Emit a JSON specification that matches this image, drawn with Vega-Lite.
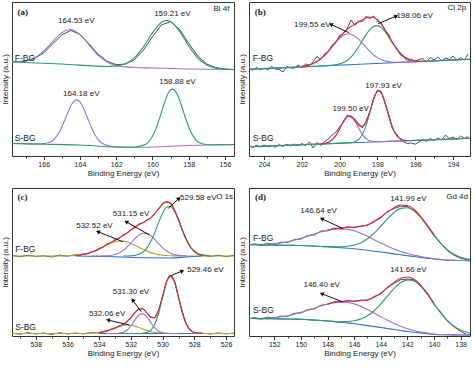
{
"$schema":"https://vega.github.io/schema/vega-lite/v6.json",
"background":"white",
"padding":{"left":0,"top":1,"right":2,"bottom":0},
"config":{
 "view":{"stroke":"#333","strokeWidth":1},
 "axis":{"grid":false,"domain":false,"labelFont":"Liberation Sans","titleFont":"Liberation Sans","labelFontSize":7,"titleFontSize":8,"titleFontWeight":"normal","labelColor":"#222","titleColor":"#222","tickColor":"#333","labelPadding":1,"titlePadding":2},
 "axisY":{"labels":false,"ticks":false,"titlePadding":3},
 "text":{"font":"Liberation Sans","fontSize":8,"color":"#222"}
},
"datasets":{
"a":[
{"s":"F","x":167.75,"p1":94.2,"p2":94,"raw":94.1},
{"s":"F","x":167,"p1":95.3,"raw":94.9},
{"s":"F","x":166.5,"p1":98.3,"raw":97.5},
{"s":"F","x":166,"p1":104.9,"raw":103.2},
{"s":"F","x":165.5,"p1":114.4,"raw":112.1},
{"s":"F","x":165,"p1":123.4,"p2":92,"raw":121.2},
{"s":"F","x":164.53,"p1":126.5},
{"s":"F","x":164.5,"raw":125.5},
{"s":"F","x":164,"p1":121.4,"raw":121.7},
{"s":"F","x":163.5,"p1":111.1,"raw":112.2},
{"s":"F","x":163,"p1":100.9,"raw":101.9},
{"s":"F","x":162.5,"p1":93.9,"p2":89.5,"raw":94.7},
{"s":"F","x":162,"p1":90.4,"p2":90.0,"raw":91.4},
{"s":"F","x":161.5,"p1":89.1,"p2":92.2,"raw":91.8},
{"s":"F","x":161,"p1":88.5,"p2":98.2,"raw":96.2},
{"s":"F","x":160.5,"p2":109.1,"raw":105.9},
{"s":"F","x":160,"p1":88,"p2":123.1,"raw":119.3},
{"s":"F","x":159.5,"p2":133.8,"raw":131.2},
{"s":"F","x":159.21,"p2":135.6},
{"s":"F","x":159,"p2":134.4,"raw":134.3},
{"s":"F","x":158.5,"p2":124.6,"raw":126.6},
{"s":"F","x":158,"p1":87,"p2":110.1,"raw":112.7},
{"s":"F","x":157.5,"p2":98.0,"raw":100.0},
{"s":"F","x":157,"p2":91.0,"raw":92.0},
{"s":"F","x":156.5,"p2":87.9,"raw":88.3},
{"s":"F","x":156,"p2":86.9,"raw":87.0},
{"s":"F","x":155.5,"p1":86.5,"p2":86.5,"raw":86.5},
{"s":"S","x":167.75,"p1":12.5,"p2":12.5},
{"s":"S","x":167,"p1":12.2},
{"s":"S","x":166.18,"p1":12.1},
{"s":"S","x":166,"p2":11.8},
{"s":"S","x":165.68,"p1":13.7},
{"s":"S","x":165.43,"p1":16.7},
{"s":"S","x":165.18,"p1":22.7},
{"s":"S","x":164.93,"p1":32.0},
{"s":"S","x":164.68,"p1":43.1},
{"s":"S","x":164.43,"p1":52.5},
{"s":"S","x":164.18,"p1":56.1},
{"s":"S","x":164,"p2":11},
{"s":"S","x":163.93,"p1":52.2},
{"s":"S","x":163.68,"p1":42.5},
{"s":"S","x":163.43,"p1":31.0},
{"s":"S","x":163.18,"p1":21.4},
{"s":"S","x":162.93,"p1":15.0},
{"s":"S","x":162.68,"p1":11.7},
{"s":"S","x":162.18,"p1":9.4},
{"s":"S","x":162,"p2":9},
{"s":"S","x":161,"p1":8.8,"p2":8.8},
{"s":"S","x":160.9,"p2":9.1},
{"s":"S","x":160.4,"p2":11.4},
{"s":"S","x":160.15,"p2":15.5},
{"s":"S","x":160,"p1":9},
{"s":"S","x":159.9,"p2":23.3},
{"s":"S","x":159.65,"p2":35.4},
{"s":"S","x":159.4,"p2":49.8},
{"s":"S","x":159.15,"p2":62.0},
{"s":"S","x":159,"p1":9.8},
{"s":"S","x":158.9,"p2":66.9},
{"s":"S","x":158.65,"p2":62.3},
{"s":"S","x":158.4,"p2":50.5},
{"s":"S","x":158.15,"p2":36.5},
{"s":"S","x":158,"p1":10.5},
{"s":"S","x":157.9,"p2":24.8},
{"s":"S","x":157.65,"p2":17.2},
{"s":"S","x":157.4,"p2":13.3},
{"s":"S","x":157,"p1":11},
{"s":"S","x":156.9,"p2":11.3},
{"s":"S","x":156,"p1":11.3,"p2":11.3},
{"s":"S","x":155.5,"p1":11.5,"p2":11.5}
],
"b":[
{"s":"F","x":204.8,"p1":86.7,"p2":86.7,"bg":86.7},
{"s":"F","x":204,"p1":87.4},
{"s":"F","x":203,"p1":88.2,"p2":88.2},
{"s":"F","x":202.5,"p1":88.7},
{"s":"F","x":202,"p1":89.6,"fit":89.6},
{"s":"F","x":201.75,"p1":90.4,"fit":90.4},
{"s":"F","x":201.5,"p1":91.8,"p2":89.5,"fit":91.8},
{"s":"F","x":201.25,"p1":93.9,"fit":93.9},
{"s":"F","x":201,"p1":97.2,"p2":90.0,"fit":97.2},
{"s":"F","x":200.75,"p1":101.6,"fit":101.7},
{"s":"F","x":200.5,"p1":107.0,"p2":90.6,"fit":107.2},
{"s":"F","x":200.25,"p1":112.7,"p2":91.1,"fit":113.2},
{"s":"F","x":200,"p1":117.7,"p2":92.1,"fit":119.0},
{"s":"F","x":199.75,"p1":121.2,"p2":94.0,"fit":124.2},
{"s":"F","x":199.5,"p1":122.2,"p2":97.2,"fit":128.2},
{"s":"F","x":199.25,"p1":120.6,"p2":102.2,"fit":131.4},
{"s":"F","x":199,"p1":116.8,"p2":109.0,"fit":134.1},
{"s":"F","x":198.75,"p1":111.8,"p2":116.8,"fit":136.7},
{"s":"F","x":198.5,"p1":106.6,"p2":124.1,"fit":138.6},
{"s":"F","x":198.25,"p1":101.9,"p2":129.1,"fit":138.7},
{"s":"F","x":198,"p1":98.4,"p2":130.4,"fit":136.3},
{"s":"F","x":197.75,"p1":96.0,"p2":127.6,"fit":130.9},
{"s":"F","x":197.5,"p1":94.6,"p2":121.7,"fit":123.4},
{"s":"F","x":197.25,"p1":94.0,"p2":114.4,"fit":115.2},
{"s":"F","x":197,"p1":93.7,"p2":107.4,"fit":107.7},
{"s":"F","x":196.75,"p2":101.9,"fit":102.0},
{"s":"F","x":196.5,"p1":93.8,"p2":98.2,"fit":98.2},
{"s":"F","x":196.25,"p2":96.1,"fit":96.1},
{"s":"F","x":196,"p1":94.2,"p2":95.1,"fit":95.1},
{"s":"F","x":195.75,"p2":94.8,"fit":94.8},
{"s":"F","x":195.5,"p2":94.8,"fit":94.8},
{"s":"F","x":195,"p1":95.1,"p2":95.1},
{"s":"F","x":193.1,"p1":96.7,"p2":96.7,"bg":96.7},
{"s":"F","x":204.8,"raw":88.0},{"s":"F","x":204.6,"raw":85.9},{"s":"F","x":204.4,"raw":88.5},{"s":"F","x":204.2,"raw":86.2},{"s":"F","x":204.0,"raw":88.0},{"s":"F","x":203.8,"raw":86.3},{"s":"F","x":203.6,"raw":89.5},{"s":"F","x":203.4,"raw":87.0},{"s":"F","x":203.2,"raw":86.5},{"s":"F","x":203.0,"raw":84.0},{"s":"F","x":202.8,"raw":89.5},{"s":"F","x":202.6,"raw":88.0},{"s":"F","x":202.4,"raw":87.8},{"s":"F","x":202.2,"raw":91.0},{"s":"F","x":202.0,"raw":88.5},{"s":"F","x":201.8,"raw":92.0},{"s":"F","x":201.6,"raw":90.5},{"s":"F","x":201.4,"raw":94.5},{"s":"F","x":201.2,"raw":99.5},{"s":"F","x":201.0,"raw":96.5},{"s":"F","x":200.8,"raw":102.0},{"s":"F","x":200.6,"raw":104.0},{"s":"F","x":200.4,"raw":111.0},{"s":"F","x":200.2,"raw":113.5},{"s":"F","x":200.0,"raw":120.5},{"s":"F","x":199.8,"raw":122.5},{"s":"F","x":199.6,"raw":127.5},{"s":"F","x":199.4,"raw":136.0},{"s":"F","x":199.2,"raw":130.5},{"s":"F","x":199.0,"raw":135.0},{"s":"F","x":198.8,"raw":134.5},{"s":"F","x":198.6,"raw":139.5},{"s":"F","x":198.4,"raw":137.5},{"s":"F","x":198.2,"raw":140.0},{"s":"F","x":198.0,"raw":135.0},{"s":"F","x":197.8,"raw":133.0},{"s":"F","x":197.6,"raw":125.5},{"s":"F","x":197.4,"raw":121.5},{"s":"F","x":197.2,"raw":112.5},{"s":"F","x":197.0,"raw":108.5},{"s":"F","x":196.8,"raw":101.5},{"s":"F","x":196.6,"raw":99.0},{"s":"F","x":196.4,"raw":94.5},{"s":"F","x":196.2,"raw":97.0},{"s":"F","x":196.0,"raw":94.0},{"s":"F","x":195.8,"raw":96.5},{"s":"F","x":195.6,"raw":97.5},{"s":"F","x":195.4,"raw":94.0},{"s":"F","x":195.2,"raw":98.5},{"s":"F","x":195.0,"raw":96.0},{"s":"F","x":194.8,"raw":99.0},{"s":"F","x":194.6,"raw":95.0},{"s":"F","x":194.4,"raw":98.0},{"s":"F","x":194.2,"raw":96.5},{"s":"F","x":194.0,"raw":100.0},{"s":"F","x":193.8,"raw":95.5},{"s":"F","x":193.6,"raw":98.5},{"s":"F","x":193.4,"raw":96.0},{"s":"F","x":193.2,"raw":102.0},
{"s":"S","x":204.8,"p1":9.3,"p2":9.3,"bg":9.3},
{"s":"S","x":202,"p1":11.3},
{"s":"S","x":201,"p1":12.1,"p2":12.0,"fit":12.1},
{"s":"S","x":200.85,"p1":12.4,"fit":12.4},
{"s":"S","x":200.7,"p1":13.0,"fit":13.0},
{"s":"S","x":200.55,"p1":14.1,"fit":14.1},
{"s":"S","x":200.4,"p1":16.1,"fit":16.1},
{"s":"S","x":200.25,"p1":19.3,"fit":19.3},
{"s":"S","x":200.1,"p1":23.8,"fit":23.8},
{"s":"S","x":199.95,"p1":29.2,"fit":29.2},
{"s":"S","x":199.8,"p1":34.5,"fit":34.5},
{"s":"S","x":199.65,"p1":38.5,"fit":38.5},
{"s":"S","x":199.5,"p1":40.1,"fit":40.2},
{"s":"S","x":199.43,"p2":13.4},
{"s":"S","x":199.35,"p1":38.8,"fit":39.2},
{"s":"S","x":199.28,"p2":13.8},
{"s":"S","x":199.2,"p1":34.9,"fit":35.9},
{"s":"S","x":199.13,"p2":14.8},
{"s":"S","x":199.05,"p1":29.8,"fit":32.1},
{"s":"S","x":198.98,"p2":16.8},
{"s":"S","x":198.9,"p1":24.6,"fit":29.6},
{"s":"S","x":198.83,"p2":20.5},
{"s":"S","x":198.75,"p1":20.4,"fit":30.1},
{"s":"S","x":198.68,"p2":26.4,"fit":31.5},
{"s":"S","x":198.6,"p1":17.4},
{"s":"S","x":198.53,"p2":34.8,"fit":37.4},
{"s":"S","x":198.45,"p1":15.6},
{"s":"S","x":198.38,"p2":44.9,"fit":46.1},
{"s":"S","x":198.3,"p1":14.8},
{"s":"S","x":198.23,"p2":54.9,"fit":55.4},
{"s":"S","x":198.15,"p1":14.4},
{"s":"S","x":198.08,"p2":62.4,"fit":62.6},
{"s":"S","x":198,"p1":14.3},
{"s":"S","x":197.93,"p2":65.3,"fit":65.4},
{"s":"S","x":197.78,"p2":62.6,"fit":62.6},
{"s":"S","x":197.63,"p2":55.3,"fit":55.3},
{"s":"S","x":197.48,"p2":45.5,"fit":45.5},
{"s":"S","x":197.33,"p2":35.7,"fit":35.7},
{"s":"S","x":197.18,"p2":27.5,"fit":27.5},
{"s":"S","x":197.03,"p2":21.8,"fit":21.8},
{"s":"S","x":196.88,"p2":18.4,"fit":18.4},
{"s":"S","x":196.73,"p2":16.6,"fit":16.6},
{"s":"S","x":196.58,"p2":15.8,"fit":15.8},
{"s":"S","x":196.43,"p2":15.5,"fit":15.5},
{"s":"S","x":196,"p1":15.6},
{"s":"S","x":193.1,"p1":17.7,"p2":17.7,"bg":17.7},
{"s":"S","x":204.8,"raw":10.5},{"s":"S","x":204.6,"raw":8.5},{"s":"S","x":204.4,"raw":10.8},{"s":"S","x":204.2,"raw":9.0},{"s":"S","x":204.0,"raw":11.0},{"s":"S","x":203.8,"raw":9.2},{"s":"S","x":203.6,"raw":10.5},{"s":"S","x":203.4,"raw":8.8},{"s":"S","x":203.2,"raw":11.5},{"s":"S","x":203.0,"raw":9.5},{"s":"S","x":202.8,"raw":11.8},{"s":"S","x":202.6,"raw":10.0},{"s":"S","x":202.4,"raw":12.0},{"s":"S","x":202.2,"raw":10.2},{"s":"S","x":202.0,"raw":12.5},{"s":"S","x":201.8,"raw":10.5},{"s":"S","x":201.6,"raw":14.0},{"s":"S","x":201.4,"raw":8.0},{"s":"S","x":201.2,"raw":13.5},{"s":"S","x":201.0,"raw":10.5},{"s":"S","x":200.8,"raw":14.5},{"s":"S","x":200.6,"raw":17.0},{"s":"S","x":200.4,"raw":21.0},{"s":"S","x":200.2,"raw":24.0},{"s":"S","x":200.0,"raw":29.0},{"s":"S","x":199.8,"raw":33.5},{"s":"S","x":199.6,"raw":41.0},{"s":"S","x":199.4,"raw":38.5},{"s":"S","x":199.2,"raw":37.0},{"s":"S","x":199.0,"raw":32.5},{"s":"S","x":198.8,"raw":28.0},{"s":"S","x":198.6,"raw":35.0},{"s":"S","x":198.4,"raw":44.0},{"s":"S","x":198.2,"raw":57.5},{"s":"S","x":198.0,"raw":66.0},{"s":"S","x":197.8,"raw":64.5},{"s":"S","x":197.6,"raw":52.5},{"s":"S","x":197.4,"raw":41.5},{"s":"S","x":197.2,"raw":27.5},{"s":"S","x":197.0,"raw":22.0},{"s":"S","x":196.8,"raw":17.0},{"s":"S","x":196.6,"raw":14.0},{"s":"S","x":196.4,"raw":12.5},{"s":"S","x":196.2,"raw":13.0},{"s":"S","x":196.0,"raw":11.8},{"s":"S","x":195.8,"raw":14.0},{"s":"S","x":195.6,"raw":16.5},{"s":"S","x":195.4,"raw":14.5},{"s":"S","x":195.2,"raw":17.5},{"s":"S","x":195.0,"raw":15.5},{"s":"S","x":194.8,"raw":18.0},{"s":"S","x":194.6,"raw":16.0},{"s":"S","x":194.4,"raw":21.0},{"s":"S","x":194.2,"raw":17.5},{"s":"S","x":194.0,"raw":19.0},{"s":"S","x":193.8,"raw":16.5},{"s":"S","x":193.6,"raw":20.0},{"s":"S","x":193.4,"raw":17.5},{"s":"S","x":193.2,"raw":19.5}
],
"c":[
{"s":"F","x":539.5,"p3":80,"raw":80.5},
{"s":"F","x":539,"raw":79.3},
{"s":"F","x":538.5,"raw":80.8},
{"s":"F","x":538,"p3":80,"raw":79.5},
{"s":"F","x":537.5,"raw":80.2},
{"s":"F","x":537,"raw":79.0},
{"s":"F","x":536.5,"p3":80.0,"raw":80.9},
{"s":"F","x":536,"p3":80.15,"raw":79.8},
{"s":"F","x":535.5,"p3":80.52,"fit":80.52,"raw":81.2,"bg":80},
{"s":"F","x":535.25,"p3":80.92,"fit":80.92,"raw":80.5},
{"s":"F","x":535,"p3":81.53,"fit":81.53,"raw":82.3},
{"s":"F","x":534.75,"p3":82.43,"fit":82.43,"raw":82.0},
{"s":"F","x":534.5,"p3":83.65,"p1":80,"fit":83.65,"raw":84.4},
{"s":"F","x":534.25,"p3":85.21,"p1":80,"fit":85.21,"raw":85.0},
{"s":"F","x":534,"p3":87.06,"p1":80.04,"fit":87.1,"raw":87.8},
{"s":"F","x":533.75,"p3":89.1,"p1":80.12,"fit":89.22,"raw":89.0},
{"s":"F","x":533.5,"p3":91.13,"p1":80.31,"fit":91.44,"raw":92.2},
{"s":"F","x":533.25,"p3":92.93,"p1":80.73,"fit":93.66,"raw":93.3},
{"s":"F","x":533,"p3":94.26,"p1":81.59,"fit":95.85,"raw":96.5,"bg":79.3},
{"s":"F","x":532.75,"p3":94.94,"p1":83.11,"fit":98.05,"raw":97.6},
{"s":"F","x":532.5,"p3":94.86,"p1":85.54,"p2":80,"fit":100.4,"raw":101.2},
{"s":"F","x":532.25,"p3":94.04,"p1":88.94,"p2":80.05,"fit":102.98,"raw":102.6},
{"s":"F","x":532,"p3":92.6,"p1":93.08,"p2":80.22,"fit":105.9,"raw":106.6},
{"s":"F","x":531.75,"p3":90.73,"p1":97.36,"p2":80.65,"fit":108.74,"raw":108.3},
{"s":"F","x":531.5,"p3":88.69,"p1":100.9,"p2":81.69,"fit":111.28,"raw":112.0},
{"s":"F","x":531.25,"p3":86.67,"p1":102.82,"p2":83.89,"fit":113.38,"raw":113.0},
{"s":"F","x":531,"p3":84.87,"p1":102.6,"p2":87.95,"fit":115.42,"raw":116.1,"bg":78.2},
{"s":"F","x":530.75,"p3":83.38,"p1":100.3,"p2":94.46,"fit":118.14,"raw":117.7},
{"s":"F","x":530.5,"p3":82.22,"p1":96.53,"p2":103.38,"fit":122.13,"raw":122.8},
{"s":"F","x":530.25,"p3":81.39,"p1":92.22,"p2":113.63,"fit":127.24,"raw":126.8},
{"s":"F","x":530,"p3":80.82,"p1":88.19,"p2":123.03,"fit":132.04,"raw":132.7},
{"s":"F","x":529.75,"p3":80.46,"p1":84.97,"p2":128.96,"fit":134.39,"raw":133.9},
{"s":"F","x":529.5,"p3":80.25,"p1":82.74,"p2":129.53,"fit":132.52,"raw":133.1,"bg":78},
{"s":"F","x":529.25,"p3":80.13,"p1":81.37,"p2":124.57,"fit":126.07,"raw":125.6},
{"s":"F","x":529,"p3":80.06,"p1":80.62,"p2":115.67,"fit":116.35,"raw":117.0},
{"s":"F","x":528.75,"p3":80,"p1":80.26,"p2":105.39,"fit":105.65,"raw":105.2},
{"s":"F","x":528.5,"p3":80,"p1":80.1,"p2":96.07,"fit":96.17,"raw":96.8,"bg":79},
{"s":"F","x":528.25,"p2":89.05,"fit":89.05,"raw":88.6},
{"s":"F","x":528,"p3":80,"p2":84.53,"fit":84.53,"raw":85.1},
{"s":"F","x":527.75,"p2":82.02,"fit":82.02,"raw":81.6},
{"s":"F","x":527.5,"p2":80.8,"fit":80.8,"raw":81.3,"bg":80},
{"s":"F","x":527.25,"p2":80.28,"raw":80.4},
{"s":"F","x":527,"p3":80,"p2":80.09,"raw":79.6},
{"s":"F","x":526.5,"raw":80.8},
{"s":"F","x":526,"raw":79.4},
{"s":"F","x":525.5,"p3":80,"raw":80.6},
{"s":"S","x":539.5,"p3":2.5,"raw":2.8},
{"s":"S","x":539,"raw":1.9},
{"s":"S","x":538.5,"raw":3.3},
{"s":"S","x":538,"raw":2.0},
{"s":"S","x":537.5,"raw":3.0},
{"s":"S","x":537,"raw":1.6},
{"s":"S","x":536.5,"raw":3.2},
{"s":"S","x":536,"raw":2.1},
{"s":"S","x":535.5,"p3":2.5,"raw":3.0},
{"s":"S","x":535,"p3":2.54,"raw":2.2},
{"s":"S","x":534.75,"p3":2.59},
{"s":"S","x":534.5,"p3":2.72,"raw":3.3},
{"s":"S","x":534.25,"p3":2.96},
{"s":"S","x":534,"p3":3.4,"fit":3.4,"raw":3.1,"bg":2.5},
{"s":"S","x":533.75,"p3":4.11,"fit":4.11,"raw":4.6},
{"s":"S","x":533.5,"p3":5.14,"p1":2.5,"fit":5.14,"raw":4.8},
{"s":"S","x":533.25,"p3":6.46,"p1":2.5,"fit":6.46,"raw":6.9},
{"s":"S","x":533,"p3":7.96,"p1":2.56,"fit":8.02,"raw":7.7},
{"s":"S","x":532.75,"p3":9.39,"p1":2.8,"fit":9.69,"raw":10.1},
{"s":"S","x":532.5,"p3":10.49,"p1":3.62,"p2":2.5,"fit":11.61,"raw":11.2},
{"s":"S","x":532.25,"p3":10.98,"p1":5.79,"p2":2.5,"fit":14.27,"raw":14.8},
{"s":"S","x":532,"p3":10.77,"p1":10.01,"p2":2.5,"fit":18.28,"raw":17.9},
{"s":"S","x":531.75,"p3":9.89,"p1":15.84,"p2":2.5,"fit":23.23,"raw":23.8},
{"s":"S","x":531.5,"p3":8.56,"p1":20.96,"p2":2.5,"fit":27.02,"raw":26.6},
{"s":"S","x":531.25,"p3":7.05,"p1":22.4,"p2":2.7,"fit":27.15,"raw":27.6},
{"s":"S","x":531,"p3":5.64,"p1":19.21,"p2":3.4,"fit":23.25,"raw":22.9},
{"s":"S","x":530.75,"p3":4.48,"p1":13.42,"p2":5.72,"fit":18.62,"raw":19.1},
{"s":"S","x":530.5,"p3":3.65,"p1":8.06,"p2":11.63,"fit":18.34,"raw":18.0},
{"s":"S","x":530.25,"p3":3.11,"p1":4.71,"p2":23.0,"fit":25.82,"raw":26.3},
{"s":"S","x":530,"p3":2.8,"p1":3.18,"p2":39.03,"fit":40.01,"raw":39.6},
{"s":"S","x":529.75,"p3":2.63,"p1":2.66,"p2":54.17,"fit":54.46,"raw":54.9},
{"s":"S","x":529.5,"p3":2.55,"p1":2.53,"p2":60.5,"fit":60.58,"raw":60.2},
{"s":"S","x":529.25,"p3":2.52,"p1":2.5,"p2":54.17,"fit":54.19,"raw":54.6},
{"s":"S","x":529,"p3":2.5,"p1":2.5,"p2":39.03,"fit":39.03,"raw":38.7},
{"s":"S","x":528.75,"p2":23.0,"fit":23.0,"raw":23.4},
{"s":"S","x":528.5,"p2":11.63,"fit":11.63,"raw":11.3},
{"s":"S","x":528.25,"p2":5.72,"fit":5.72,"raw":6.1},
{"s":"S","x":528,"p2":3.4,"fit":3.4,"raw":3.1,"bg":2.5},
{"s":"S","x":527.75,"p2":2.7,"fit":2.7},
{"s":"S","x":527.5,"p2":2.5,"fit":2.5,"raw":2.9},
{"s":"S","x":527,"raw":2.0},
{"s":"S","x":526.5,"raw":3.1},
{"s":"S","x":526,"raw":2.2},
{"s":"S","x":525.5,"p3":2.5,"raw":2.9}
],
"d":[
{"s":"F","x":153.9,"bg":91.3,"p1":91.46,"p2":91.3,"raw":91.0},
{"s":"F","x":153.5,"bg":91.2,"p1":91.47,"p2":91.2,"raw":92.2},
{"s":"F","x":153,"bg":91.1,"p1":91.6,"p2":91.1,"raw":90.8},
{"s":"F","x":152.5,"bg":91.0,"p1":91.88,"p2":91.0,"raw":92.6},
{"s":"F","x":152,"bg":90.9,"p1":92.37,"p2":90.9,"raw":91.4},
{"s":"F","x":151.5,"bg":90.8,"p1":93.15,"p2":90.8,"raw":93.8},
{"s":"F","x":151,"bg":90.7,"p1":94.29,"p2":90.7,"raw":93.5},
{"s":"F","x":150.5,"bg":90.6,"p1":95.81,"p2":90.6,"raw":96.5},
{"s":"F","x":150,"bg":90.5,"p1":97.72,"p2":90.5,"raw":97.0},
{"s":"F","x":149.5,"bg":90.2,"p1":99.74,"p2":90.2,"raw":100.6},
{"s":"F","x":149,"bg":89.85,"p1":101.87,"p2":89.85,"raw":101.0},
{"s":"F","x":148.5,"bg":89.5,"p1":103.96,"p2":89.5,"raw":104.9},
{"s":"F","x":148,"bg":89.2,"p1":105.78,"p2":89.35,"fit":105.93,"raw":105.2},
{"s":"F","x":147.5,"bg":88.7,"p1":106.84,"p2":89.08,"fit":107.22,"raw":108.0},
{"s":"F","x":147,"bg":88.2,"p1":107.13,"p2":89.08,"fit":108.01,"raw":107.3},
{"s":"F","x":146.5,"bg":87.8,"p1":106.64,"p2":89.69,"fit":108.53,"raw":109.3},
{"s":"F","x":146,"bg":87.3,"p1":105.18,"p2":91.06,"fit":108.94,"raw":108.2},
{"s":"F","x":145.5,"bg":86.5,"p1":102.7,"p2":93.37,"fit":109.57,"raw":110.1},
{"s":"F","x":145,"bg":85.7,"p1":99.69,"p2":97.29,"fit":111.28,"raw":110.6},
{"s":"F","x":144.5,"bg":84.8,"p1":96.32,"p2":102.81,"fit":114.33,"raw":115.0},
{"s":"F","x":144,"bg":84.0,"p1":93.06,"p2":109.8,"fit":118.86,"raw":118.1},
{"s":"F","x":143.5,"bg":83.1,"p1":89.89,"p2":117.15,"fit":123.94,"raw":124.6},
{"s":"F","x":143,"bg":82.1,"p1":86.95,"p2":123.52,"fit":128.37,"raw":127.5},
{"s":"F","x":142.5,"bg":81.2,"p1":84.51,"p2":127.64,"fit":130.95,"raw":129.8},
{"s":"F","x":142,"bg":80.3,"p1":82.45,"p2":128.28,"fit":130.43,"raw":129.4},
{"s":"F","x":141.5,"bg":79.5,"p1":80.84,"p2":125.19,"fit":126.53,"raw":125.2},
{"s":"F","x":141,"bg":78.6,"p1":79.39,"p2":118.69,"fit":119.48,"raw":118.6},
{"s":"F","x":140.5,"bg":77.8,"p1":78.25,"p2":110.23,"fit":110.68,"raw":109.5},
{"s":"F","x":140,"bg":77.0,"p1":77.24,"p2":101.17,"fit":101.41,"raw":100.2},
{"s":"F","x":139.5,"bg":76.4,"p1":76.52,"p2":93.0,"raw":92.4},
{"s":"F","x":139,"bg":75.8,"p1":75.86,"p2":86.31,"raw":85.2},
{"s":"F","x":138.5,"bg":75.6,"p1":75.6,"p2":81.73,"raw":80.8},
{"s":"F","x":138,"bg":75.5,"p1":75.5,"p2":78.8,"raw":77.6},
{"s":"F","x":137.5,"bg":75.4,"p1":75.4,"p2":77.03,"raw":76.4},
{"s":"F","x":137.3,"bg":75.3,"p1":75.3,"p2":76.5,"raw":77.0},
{"s":"S","x":153.9,"bg":17.5,"p1":17.63,"p2":17.5,"raw":17.2},
{"s":"S","x":153.5,"bg":17.45,"p1":17.68,"p2":17.45,"raw":18.4},
{"s":"S","x":153,"bg":17.35,"p1":17.78,"p2":17.35,"raw":17.0},
{"s":"S","x":152.5,"bg":17.3,"p1":18.06,"p2":17.3,"raw":18.8},
{"s":"S","x":152,"bg":17.2,"p1":18.5,"p2":17.2,"raw":17.9},
{"s":"S","x":151.5,"bg":17.1,"p1":19.22,"p2":17.1,"raw":19.9},
{"s":"S","x":151,"bg":17.0,"p1":20.29,"p2":17.0,"raw":19.6},
{"s":"S","x":150.5,"bg":16.9,"p1":21.77,"p2":16.9,"raw":22.6},
{"s":"S","x":150,"bg":16.8,"p1":23.67,"p2":16.8,"raw":23.0},
{"s":"S","x":149.5,"bg":16.4,"p1":25.66,"p2":16.4,"raw":26.4},
{"s":"S","x":149,"bg":15.9,"p1":27.79,"p2":15.9,"raw":27.1},
{"s":"S","x":148.5,"bg":15.45,"p1":30.02,"p2":15.45,"raw":30.8},
{"s":"S","x":148,"bg":15.0,"p1":32.03,"p2":15.1,"fit":32.13,"raw":31.5},
{"s":"S","x":147.5,"bg":14.3,"p1":33.29,"p2":14.56,"fit":33.55,"raw":34.3},
{"s":"S","x":147,"bg":13.65,"p1":33.84,"p2":14.28,"fit":34.47,"raw":33.8},
{"s":"S","x":146.5,"bg":13.0,"p1":33.48,"p2":14.41,"fit":34.89,"raw":35.6},
{"s":"S","x":146,"bg":12.3,"p1":32.11,"p2":15.22,"fit":35.03,"raw":34.5},
{"s":"S","x":145.5,"bg":11.35,"p1":29.63,"p2":16.91,"fit":35.19,"raw":36.0},
{"s":"S","x":145,"bg":10.4,"p1":26.49,"p2":20.17,"fit":36.26,"raw":35.6},
{"s":"S","x":144.5,"bg":9.45,"p1":22.96,"p2":25.27,"fit":38.78,"raw":39.5},
{"s":"S","x":144,"bg":8.5,"p1":19.32,"p2":32.1,"fit":42.92,"raw":42.0},
{"s":"S","x":143.5,"bg":7.5,"p1":15.77,"p2":39.94,"fit":48.21,"raw":48.9},
{"s":"S","x":143,"bg":6.5,"p1":12.52,"p2":47.61,"fit":53.63,"raw":52.6},
{"s":"S","x":142.5,"bg":5.5,"p1":9.69,"p2":53.5,"fit":57.69,"raw":56.4},
{"s":"S","x":142,"bg":4.5,"p1":7.27,"p2":56.16,"fit":58.93,"raw":57.0},
{"s":"S","x":141.5,"bg":3.75,"p1":5.5,"p2":54.99,"fit":56.74,"raw":56.1},
{"s":"S","x":141,"bg":3.0,"p1":4.06,"p2":49.84,"fit":50.9,"raw":49.8},
{"s":"S","x":140.5,"bg":2.25,"p1":2.86,"p2":41.71,"fit":42.32,"raw":43.0},
{"s":"S","x":140,"bg":1.5,"p1":1.83,"p2":32.14,"fit":32.47,"raw":31.5},
{"s":"S","x":139.5,"bg":1.3,"p1":1.47,"p2":23.22,"raw":23.9},
{"s":"S","x":139,"bg":1.2,"p1":1.29,"p2":15.66,"raw":14.8},
{"s":"S","x":138.5,"bg":1.1,"p1":1.14,"p2":9.89,"raw":9.2},
{"s":"S","x":138,"bg":1.0,"p1":1.0,"p2":5.92,"raw":4.5},
{"s":"S","x":137.5,"bg":1.0,"p1":1.0,"p2":3.54,"raw":1.2},
{"s":"S","x":137.3,"bg":1.0,"p1":1.0,"p2":2.91,"raw":2.0}
],
"t":[
{"p":"a","g":"lt","x":167.45,"y":144,"t":"(a)"},
{"p":"a","g":"tg","x":155.75,"y":147.5,"t":"Bi 4f"},
{"p":"a","g":"sm","x":167.6,"y":98.3,"t":"F-BG"},
{"p":"a","g":"sm","x":167.6,"y":18.3,"t":"S-BG"},
{"p":"a","g":"pk","x":164.2,"y":135,"t":"164.53 eV"},
{"p":"a","g":"pk","x":158.9,"y":142.3,"t":"159.21 eV"},
{"p":"a","g":"pk","x":163.93,"y":62.3,"t":"164.18 eV"},
{"p":"a","g":"pk","x":158.62,"y":74.3,"t":"158.88 eV"},
{"p":"b","g":"lt","x":204.5,"y":144.3,"t":"(b)"},
{"p":"b","g":"tg","x":193.3,"y":147.7,"t":"Cl 2p"},
{"p":"b","g":"sm","x":204.6,"y":98.3,"t":"F-BG"},
{"p":"b","g":"sm","x":204.6,"y":18.3,"t":"S-BG"},
{"p":"b","g":"pk","x":201.45,"y":131.3,"t":"199.55 eV"},
{"p":"b","g":"pk","x":196.03,"y":140,"t":"198.06 eV"},
{"p":"b","g":"pk","x":199.42,"y":46.7,"t":"199.50 eV"},
{"p":"b","g":"pk","x":197.68,"y":70,"t":"197.93 eV"},
{"p":"c","g":"lt","x":539.15,"y":139,"t":"(c)"},
{"p":"c","g":"tg","x":525.56,"y":139.3,"t":"O 1s"},
{"p":"c","g":"sm","x":539.3,"y":87.3,"t":"F-BG"},
{"p":"c","g":"sm","x":539.3,"y":9,"t":"S-BG"},
{"p":"c","g":"pk","x":527.75,"y":138.3,"t":"529.58 eV"},
{"p":"c","g":"pk","x":531.99,"y":121.7,"t":"531.15 eV"},
{"p":"c","g":"pk","x":534.3,"y":110,"t":"532.52 eV"},
{"p":"c","g":"pk","x":527.3,"y":66,"t":"529.46 eV"},
{"p":"c","g":"pk","x":532.0,"y":44,"t":"531.30 eV"},
{"p":"c","g":"pk","x":533.5,"y":22.5,"t":"532.06 eV"},
{"p":"d","g":"lt","x":153.45,"y":139,"t":"(d)"},
{"p":"d","g":"tg","x":137.45,"y":139.5,"t":"Gd 4d"},
{"p":"d","g":"sm","x":153.6,"y":98,"t":"F-BG"},
{"p":"d","g":"sm","x":153.6,"y":25.7,"t":"S-BG"},
{"p":"d","g":"pk","x":148.68,"y":124.7,"t":"146.64 eV"},
{"p":"d","g":"pk","x":141.93,"y":137.3,"t":"141.99 eV"},
{"p":"d","g":"pk","x":148.44,"y":50.7,"t":"146.40 eV"},
{"p":"d","g":"pk","x":141.93,"y":65.7,"t":"141.66 eV"}
],
"ar":[
{"p":"b","x":200.47,"y":131.7,"x2":199.52,"y2":123.3,"ang":295},
{"p":"b","x":197.0,"y":140,"x2":197.96,"y2":132.3,"ang":67},
{"p":"c","x":528.97,"y":137.7,"x2":529.64,"y2":127.7,"ang":47},
{"p":"c","x":532.3,"y":114.3,"x2":530.84,"y2":101,"ang":300},
{"p":"c","x":534.08,"y":104.3,"x2":532.51,"y2":94.3,"ang":292},
{"p":"c","x":528.76,"y":65,"x2":529.49,"y2":60.3,"ang":68},
{"p":"c","x":531.89,"y":36,"x2":531.36,"y2":24.3,"ang":324},
{"p":"c","x":533.45,"y":16,"x2":532.09,"y2":11,"ang":283},
{"p":"d","x":148.44,"y":117.3,"x2":146.84,"y2":107.3,"ang":295},
{"p":"d","x":148.44,"y":42.3,"x2":146.84,"y2":34,"ang":291}
]
},
"vconcat":[
{"hconcat":[
{"width":222,"height":154,"data":{"name":"a"},
 "encoding":{
  "x":{"field":"x","type":"quantitative","scale":{"domain":[155.5,167.75],"reverse":true,"nice":false,"zero":false},"axis":{"values":[156,157,158,159,160,161,162,163,164,165,166,167],"labelExpr":"datum.value % 2 == 0 ? datum.label : ''","tickSize":{"condition":{"test":"datum.value % 2 == 0","value":3.5},"value":2},"title":"Binding Energy (eV)"}},
  "y":{"field":"y","type":"quantitative","scale":{"domain":[0,154],"nice":false,"zero":false},"axis":{"title":"Intensity (a.u.)"}}},
 "layer":[
  {"transform":[{"fold":["raw"],"as":["k","y"]},{"filter":"isValid(datum.y)"}],"mark":{"type":"line","color":"#3a3a3a","strokeWidth":0.9,"clip":true},"encoding":{"detail":{"field":"s"}}},
  {"transform":[{"fold":["bg","p3","p1","p2"],"as":["k","y"]},{"filter":"isValid(datum.y)"}],"mark":{"type":"line","strokeWidth":1.1,"interpolate":"monotone","clip":true},"encoding":{"detail":{"field":"s"},"color":{"field":"k","type":"nominal","scale":{"domain":["bg","p3","p1","p2","fit"],"range":["#2e6fd0","#b3a630","#9b72cf","#2d9a6a","#e3263c"]},"legend":null}}},
  {"transform":[{"fold":["fit"],"as":["k","y"]},{"filter":"isValid(datum.y)"}],"mark":{"type":"line","color":"#e3263c","strokeWidth":1.1,"interpolate":"monotone","clip":true},"encoding":{"detail":{"field":"s"}}},
  {"data":{"name":"t"},"transform":[{"filter":"datum.p=='a' && datum.g=='pk'"}],"mark":{"type":"text","fontSize":8},"encoding":{"text":{"field":"t"}}},
  {"data":{"name":"t"},"transform":[{"filter":"datum.p=='a' && datum.g=='lt'"}],"mark":{"type":"text","font":"Liberation Serif","fontWeight":"bold","fontSize":9,"align":"left"},"encoding":{"text":{"field":"t"}}},
  {"data":{"name":"t"},"transform":[{"filter":"datum.p=='a' && datum.g=='tg'"}],"mark":{"type":"text","fontSize":8,"align":"right"},"encoding":{"text":{"field":"t"}}},
  {"data":{"name":"t"},"transform":[{"filter":"datum.p=='a' && datum.g=='sm'"}],"mark":{"type":"text","fontSize":8.5,"align":"left"},"encoding":{"text":{"field":"t"}}}
 ]},
{"width":221,"height":154,"data":{"name":"b"},
 "encoding":{
  "x":{"field":"x","type":"quantitative","scale":{"domain":[193.1,204.8],"reverse":true,"nice":false,"zero":false},"axis":{"values":[194,195,196,197,198,199,200,201,202,203,204],"labelExpr":"datum.value % 2 == 0 ? datum.label : ''","tickSize":{"condition":{"test":"datum.value % 2 == 0","value":3.5},"value":2},"title":"Binding Energy (eV)"}},
  "y":{"field":"y","type":"quantitative","scale":{"domain":[0,154],"nice":false,"zero":false},"axis":{"title":"Intensity (a.u.)"}}},
 "layer":[
  {"transform":[{"fold":["raw"],"as":["k","y"]},{"filter":"isValid(datum.y)"}],"mark":{"type":"line","color":"#3a3a3a","strokeWidth":0.9,"clip":true},"encoding":{"detail":{"field":"s"}}},
  {"transform":[{"fold":["bg","p3","p1","p2"],"as":["k","y"]},{"filter":"isValid(datum.y)"}],"mark":{"type":"line","strokeWidth":1.1,"interpolate":"monotone","clip":true},"encoding":{"detail":{"field":"s"},"color":{"field":"k","type":"nominal","scale":{"domain":["bg","p3","p1","p2","fit"],"range":["#2e6fd0","#b3a630","#9b72cf","#2d9a6a","#e3263c"]},"legend":null}}},
  {"transform":[{"fold":["fit"],"as":["k","y"]},{"filter":"isValid(datum.y)"}],"mark":{"type":"line","color":"#e3263c","strokeWidth":1.1,"interpolate":"monotone","clip":true},"encoding":{"detail":{"field":"s"}}},
  {"data":{"name":"ar"},"transform":[{"filter":"datum.p=='b'"}],"mark":{"type":"rule","color":"#111","strokeWidth":1},"encoding":{"x2":{"field":"x2"},"y2":{"field":"y2"}}},
  {"data":{"name":"ar"},"transform":[{"filter":"datum.p=='b'"}],"mark":{"type":"point","shape":"triangle-up","filled":true,"color":"#111","size":22,"opacity":1},"encoding":{"angle":{"field":"ang","type":"quantitative","scale":null}}},
  {"data":{"name":"t"},"transform":[{"filter":"datum.p=='b' && datum.g=='pk'"}],"mark":{"type":"text","fontSize":8},"encoding":{"text":{"field":"t"}}},
  {"data":{"name":"t"},"transform":[{"filter":"datum.p=='b' && datum.g=='lt'"}],"mark":{"type":"text","font":"Liberation Serif","fontWeight":"bold","fontSize":9,"align":"left"},"encoding":{"text":{"field":"t"}}},
  {"data":{"name":"t"},"transform":[{"filter":"datum.p=='b' && datum.g=='tg'"}],"mark":{"type":"text","fontSize":8,"align":"right"},"encoding":{"text":{"field":"t"}}},
  {"data":{"name":"t"},"transform":[{"filter":"datum.p=='b' && datum.g=='sm'"}],"mark":{"type":"text","fontSize":8.5,"align":"left"},"encoding":{"text":{"field":"t"}}}
 ]}
],"spacing":2},
{"hconcat":[
{"width":222,"height":148,"data":{"name":"c"},
 "encoding":{
  "x":{"field":"x","type":"quantitative","scale":{"domain":[525.5,539.5],"reverse":true,"nice":false,"zero":false},"axis":{"values":[526,527,528,529,530,531,532,533,534,535,536,537,538,539],"labelExpr":"datum.value % 2 == 0 ? datum.label : ''","tickSize":{"condition":{"test":"datum.value % 2 == 0","value":3.5},"value":2},"title":"Binding Energy (eV)"}},
  "y":{"field":"y","type":"quantitative","scale":{"domain":[0,148],"nice":false,"zero":false},"axis":{"title":"Intensity (a.u.)"}}},
 "layer":[
  {"transform":[{"fold":["raw"],"as":["k","y"]},{"filter":"isValid(datum.y)"}],"mark":{"type":"line","color":"#3a3a3a","strokeWidth":0.9,"clip":true},"encoding":{"detail":{"field":"s"}}},
  {"transform":[{"fold":["bg","p3","p1","p2"],"as":["k","y"]},{"filter":"isValid(datum.y)"}],"mark":{"type":"line","strokeWidth":1.1,"interpolate":"monotone","clip":true},"encoding":{"detail":{"field":"s"},"color":{"field":"k","type":"nominal","scale":{"domain":["bg","p3","p1","p2","fit"],"range":["#2e6fd0","#b3a630","#9b72cf","#2d9a6a","#e3263c"]},"legend":null}}},
  {"transform":[{"fold":["fit"],"as":["k","y"]},{"filter":"isValid(datum.y)"}],"mark":{"type":"line","color":"#e3263c","strokeWidth":1.1,"interpolate":"monotone","clip":true},"encoding":{"detail":{"field":"s"}}},
  {"data":{"name":"ar"},"transform":[{"filter":"datum.p=='c'"}],"mark":{"type":"rule","color":"#111","strokeWidth":1},"encoding":{"x2":{"field":"x2"},"y2":{"field":"y2"}}},
  {"data":{"name":"ar"},"transform":[{"filter":"datum.p=='c'"}],"mark":{"type":"point","shape":"triangle-up","filled":true,"color":"#111","size":22,"opacity":1},"encoding":{"angle":{"field":"ang","type":"quantitative","scale":null}}},
  {"data":{"name":"t"},"transform":[{"filter":"datum.p=='c' && datum.g=='pk'"}],"mark":{"type":"text","fontSize":8},"encoding":{"text":{"field":"t"}}},
  {"data":{"name":"t"},"transform":[{"filter":"datum.p=='c' && datum.g=='lt'"}],"mark":{"type":"text","font":"Liberation Serif","fontWeight":"bold","fontSize":9,"align":"left"},"encoding":{"text":{"field":"t"}}},
  {"data":{"name":"t"},"transform":[{"filter":"datum.p=='c' && datum.g=='tg'"}],"mark":{"type":"text","fontSize":8,"align":"right"},"encoding":{"text":{"field":"t"}}},
  {"data":{"name":"t"},"transform":[{"filter":"datum.p=='c' && datum.g=='sm'"}],"mark":{"type":"text","fontSize":8.5,"align":"left"},"encoding":{"text":{"field":"t"}}}
 ]},
{"width":221,"height":148,"data":{"name":"d"},
 "encoding":{
  "x":{"field":"x","type":"quantitative","scale":{"domain":[137.3,153.9],"reverse":true,"nice":false,"zero":false},"axis":{"values":[138,139,140,141,142,143,144,145,146,147,148,149,150,151,152,153],"labelExpr":"datum.value % 2 == 0 ? datum.label : ''","tickSize":{"condition":{"test":"datum.value % 2 == 0","value":3.5},"value":2},"title":"Binding Energy (eV)"}},
  "y":{"field":"y","type":"quantitative","scale":{"domain":[0,148],"nice":false,"zero":false},"axis":{"title":"Intensity (a.u.)"}}},
 "layer":[
  {"transform":[{"fold":["raw"],"as":["k","y"]},{"filter":"isValid(datum.y)"}],"mark":{"type":"line","color":"#3a3a3a","strokeWidth":0.9,"clip":true},"encoding":{"detail":{"field":"s"}}},
  {"transform":[{"fold":["bg","p3","p1","p2"],"as":["k","y"]},{"filter":"isValid(datum.y)"}],"mark":{"type":"line","strokeWidth":1.1,"interpolate":"monotone","clip":true},"encoding":{"detail":{"field":"s"},"color":{"field":"k","type":"nominal","scale":{"domain":["bg","p3","p1","p2","fit"],"range":["#2e6fd0","#b3a630","#9b72cf","#2d9a6a","#e3263c"]},"legend":null}}},
  {"transform":[{"fold":["fit"],"as":["k","y"]},{"filter":"isValid(datum.y)"}],"mark":{"type":"line","color":"#e3263c","strokeWidth":1.1,"interpolate":"monotone","clip":true},"encoding":{"detail":{"field":"s"}}},
  {"data":{"name":"ar"},"transform":[{"filter":"datum.p=='d'"}],"mark":{"type":"rule","color":"#111","strokeWidth":1},"encoding":{"x2":{"field":"x2"},"y2":{"field":"y2"}}},
  {"data":{"name":"ar"},"transform":[{"filter":"datum.p=='d'"}],"mark":{"type":"point","shape":"triangle-up","filled":true,"color":"#111","size":22,"opacity":1},"encoding":{"angle":{"field":"ang","type":"quantitative","scale":null}}},
  {"data":{"name":"t"},"transform":[{"filter":"datum.p=='d' && datum.g=='pk'"}],"mark":{"type":"text","fontSize":8},"encoding":{"text":{"field":"t"}}},
  {"data":{"name":"t"},"transform":[{"filter":"datum.p=='d' && datum.g=='lt'"}],"mark":{"type":"text","font":"Liberation Serif","fontWeight":"bold","fontSize":9,"align":"left"},"encoding":{"text":{"field":"t"}}},
  {"data":{"name":"t"},"transform":[{"filter":"datum.p=='d' && datum.g=='tg'"}],"mark":{"type":"text","fontSize":8,"align":"right"},"encoding":{"text":{"field":"t"}}},
  {"data":{"name":"t"},"transform":[{"filter":"datum.p=='d' && datum.g=='sm'"}],"mark":{"type":"text","fontSize":8.5,"align":"left"},"encoding":{"text":{"field":"t"}}}
 ]}
],"spacing":2}
],
"spacing":9
}
